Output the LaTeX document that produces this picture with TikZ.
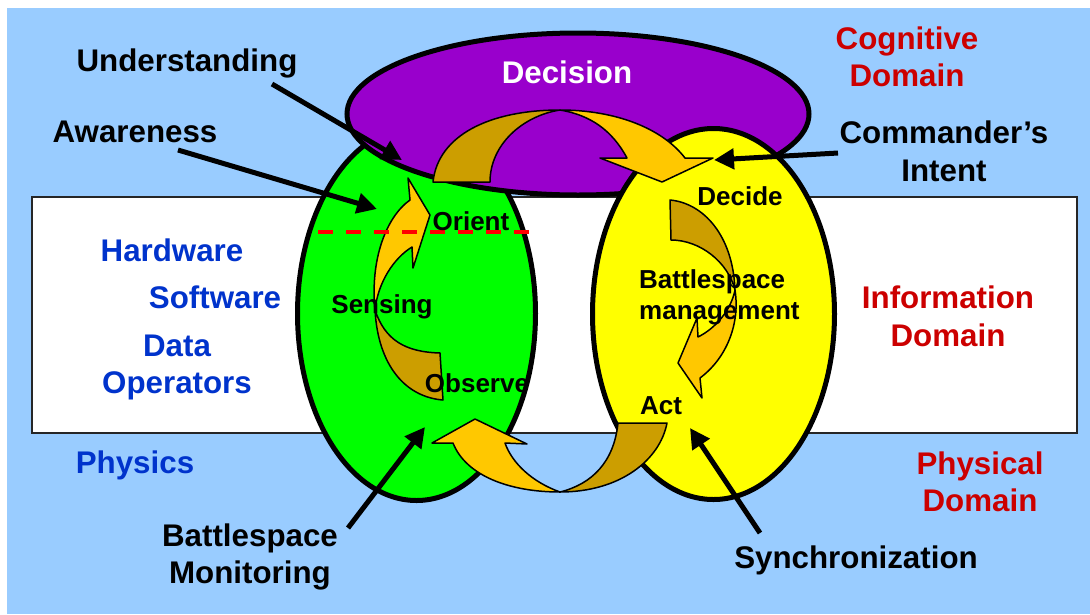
\documentclass[tikz,border=0pt]{standalone}
\usepackage{fontspec}
\setmainfont{Liberation Sans}
\usetikzlibrary{arrows.meta}
\definecolor{bgblue}{HTML}{99CCFF}
\definecolor{purp}{HTML}{9900CC}
\definecolor{grn}{HTML}{00FF00}
\definecolor{yel}{HTML}{FFFF00}
\definecolor{darkgold}{HTML}{CC9E00}
\definecolor{gold}{HTML}{FFC800}
\definecolor{lblue}{HTML}{0033CC}
\definecolor{lred}{HTML}{CC0000}
\definecolor{dashred}{HTML}{FF0000}
\begin{document}
\begin{tikzpicture}[x=1pt,y=-1pt,
  big/.style={font=\fontsize{31.3}{37}\selectfont\bfseries, inner sep=0pt, anchor=base},
  small/.style={font=\fontsize{26}{31}\selectfont\bfseries, inner sep=0pt, anchor=base},
  oval/.style={draw=black, line width=5pt},
  band/.style={draw=black, line width=1.5pt, line join=round},
  pointer/.style={draw=black, line width=5pt, -{Triangle[length=20pt,width=20pt]}},
]
\useasboundingbox (0,0) rectangle (1090,614);
\fill[white] (0,0) rectangle (1090,614);
\fill[bgblue] (7,8) rectangle (1090,614);
\draw[fill=white, draw=black!85, line width=2pt] (32,197) rectangle (1077,433);

% domains
\draw[oval, fill=grn] (416.5,313.5) ellipse [x radius=119pt, y radius=187pt];
\draw[oval, fill=purp] (578,114) ellipse [x radius=231pt, y radius=81pt];
\draw[oval, fill=yel] (713.5,314) ellipse [x radius=121pt, y radius=185.5pt];

% top curved arrow
\draw[band, fill=darkgold] (433,182) .. controls (438,135) and (490,110) .. (560,110)
  .. controls (522,116) and (490,145) .. (490,182) -- cycle;
\draw[band, fill=gold] (560,110) .. controls (615,110) and (662,128) .. (685,158)
  -- (713,158) -- (662,182) -- (600,158) -- (627,158)
  .. controls (612,130) and (590,115) .. (560,110) -- cycle;

% right curved arrow
\draw[band, fill=darkgold] (670,200) .. controls (703,203) and (733,235) .. (735,290)
  .. controls (728,262) and (700,240) .. (671,240) -- cycle;
\draw[band, fill=gold] (735,290) .. controls (740,322) and (728,357) .. (700,378)
  -- (702,398) -- (678,363) -- (697,318) -- (698,337)
  .. controls (716,328) and (731,310) .. (735,290) -- cycle;

% left curved arrow
\draw[band, fill=darkgold] (375,310) .. controls (385,340) and (405,352) .. (440,353)
  -- (443,400) .. controls (405,397) and (378,365) .. (375,310) -- cycle;
\draw[band, fill=gold] (375,310) .. controls (370,260) and (386,217) .. (410,200)
  -- (408,178) -- (430,215) -- (413,268) -- (412,247)
  .. controls (394,258) and (378,282) .. (375,310) -- cycle;

% bottom curved arrow
\draw[band, fill=gold] (453,443) .. controls (466,476) and (510,492) .. (560,492)
  .. controls (532,482) and (512,463) .. (505,443) -- (527,444) -- (475,419) -- (432,443) -- cycle;
\draw[band, fill=darkgold] (560,492) .. controls (620,492) and (660,460) .. (667,423)
  -- (618,423) .. controls (614,462) and (592,484) .. (560,492) -- cycle;

% dashed boundary
\draw[dashred, line width=4pt, dash pattern=on 15pt off 13pt] (318,232) -- (530,232);

% labels
\node[big, white] (decision) at (567,83) {Decision};
\node[big] (understanding) at (187,71) {Understanding};
\node[big] (awareness) at (135,142) {Awareness};
\node[big, lred] (cog1) at (907,49) {Cognitive};
\node[big, lred] (cog2) at (907,86) {Domain};
\node[big] (cmd1) at (944,143) {Commander’s};
\node[big] (cmd2) at (944,181) {Intent};
\node[small] (decide) at (740,205) {Decide};
\node[small] (orient) at (471,230) {Orient};
\node[big, lblue] (hardware) at (172,261) {Hardware};
\node[big, lblue] (software) at (215,308) {Software};
\node[small] (sensing) at (382,313) {Sensing};
\node[small, anchor=base west] (bm1) at (639,288) {Battlespace};
\node[small, anchor=base west] (bm2) at (639,319) {management};
\node[big, lred] (inf1) at (948,308) {Information};
\node[big, lred] (inf2) at (948,346) {Domain};
\node[big, lblue] (data) at (177,356) {Data};
\node[big, lblue] (operators) at (177,393) {Operators};
\node[small] (observe) at (477,392) {Observe};
\node[small] (act) at (661,414) {Act};
\node[big, lblue] (physics) at (135,473) {Physics};
\node[big, lred] (phy1) at (980,474) {Physical};
\node[big, lred] (phy2) at (980,511) {Domain};
\node[big] (mon1) at (250,546) {Battlespace};
\node[big] (mon2) at (250,583) {Monitoring};
\node[big] (sync) at (856,568) {Synchronization};

% pointer arrows
\coordinate (undS) at (272,84);   \coordinate (undT) at (402,160);
\coordinate (awaS) at (178,150);  \coordinate (awaT) at (377,209);
\coordinate (cmdS) at (838,153);  \coordinate (cmdT) at (714,160);
\coordinate (monS) at (348,528);  \coordinate (monT) at (425,427);
\coordinate (synS) at (760,533);  \coordinate (synT) at (690,428);
\draw[pointer] (undS) -- (undT);
\draw[pointer] (awaS) -- (awaT);
\draw[pointer] (cmdS) -- (cmdT);
\draw[pointer] (monS) -- (monT);
\draw[pointer] (synS) -- (synT);
\end{tikzpicture}
\end{document}
